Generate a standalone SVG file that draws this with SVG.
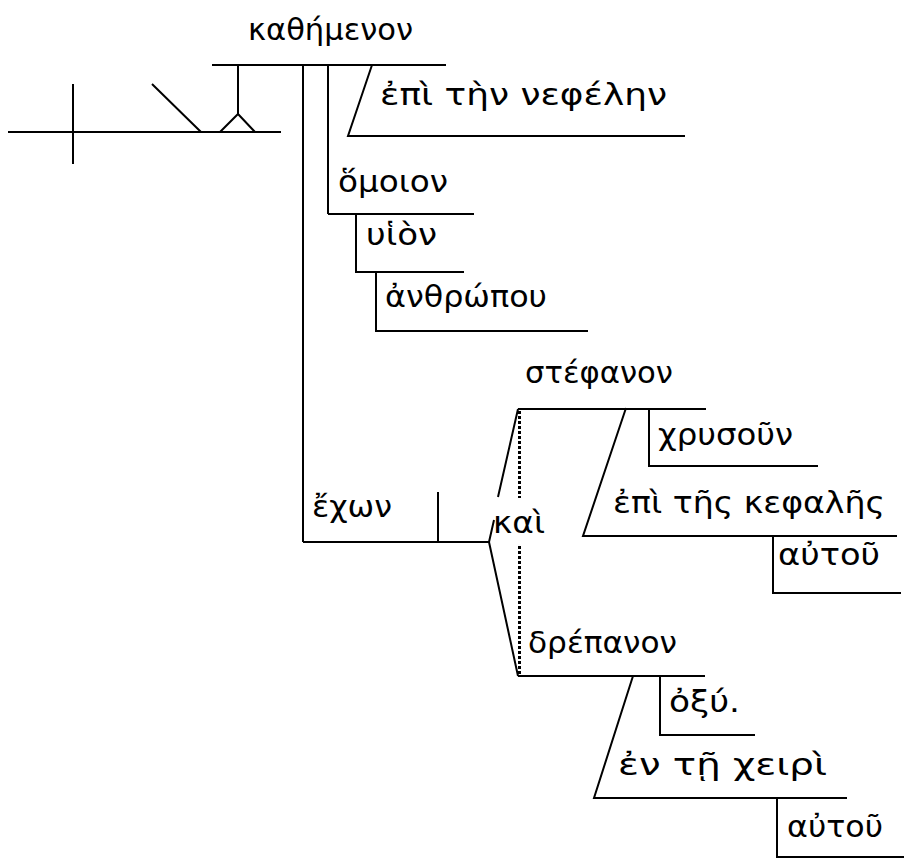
<svg xmlns="http://www.w3.org/2000/svg" width="910" height="867" viewBox="0 0 910 867">
<style>
.l{stroke:#000;stroke-width:2;fill:none}
.d{stroke:#000;stroke-width:3;fill:none;stroke-dasharray:3,2}
text{font-family:"DejaVu Sans","Noto Sans",sans-serif;font-size:30px;fill:#000}
</style>
<rect width="910" height="867" fill="#fff"/>
<g id="connectors">
<path class="l" d="M8,132H281M73,84V164M152,84L201,132M220,132L238,114L255,132M238,114V65"/>
<path class="l" d="M212,65H446M303,65V542M328,65V214M372,65L348,136H685"/>
<path class="l" d="M328,214H474M356,214V272H464M376,272V331H588"/>
<path class="l" d="M303,542H489M438,492V542M489,542L494,520M498,497L518,409M489,542L518,676"/>
<path class="d" d="M519.5,411V498M519.5,546V674"/>
<path class="l" d="M518,409H706M649,408V466H818M626,408L583,536H897M773,536V593H901"/>
<path class="l" d="M518,676H705M660,676V735H755M633,676L594,798H847M777,798V857H904"/>
</g>
<g id="n1"><text x="248" y="40" textLength="165" lengthAdjust="spacingAndGlyphs">καθήμενον</text></g>
<g id="n2"><text x="380" y="105" textLength="287" lengthAdjust="spacingAndGlyphs">ἐπὶ τὴν νεφέλην</text></g>
<g id="n3"><text x="338" y="192" textLength="110" lengthAdjust="spacingAndGlyphs">ὅμοιον</text></g>
<g id="n4"><text x="366" y="245" textLength="71" lengthAdjust="spacingAndGlyphs">υἱὸν</text></g>
<g id="n5"><text x="385" y="307" textLength="162" lengthAdjust="spacingAndGlyphs">ἀνθρώπου</text></g>
<g id="n6"><text x="312" y="517" textLength="80" lengthAdjust="spacingAndGlyphs">ἔχων</text></g>
<g id="n7"><text x="493" y="533" textLength="52" lengthAdjust="spacingAndGlyphs">καὶ</text></g>
<g id="n8"><text x="525" y="383" textLength="148" lengthAdjust="spacingAndGlyphs">στέφανον</text></g>
<g id="n9"><text x="658" y="445" textLength="135" lengthAdjust="spacingAndGlyphs">χρυσοῦν</text></g>
<g id="n10"><text x="613" y="513" textLength="272" lengthAdjust="spacingAndGlyphs">ἐπὶ τῆς κεφαλῆς</text></g>
<g id="n11"><text x="778" y="565" textLength="102" lengthAdjust="spacingAndGlyphs">αὐτοῦ</text></g>
<g id="n12"><text x="528" y="653" textLength="149" lengthAdjust="spacingAndGlyphs">δρέπανον</text></g>
<g id="n13"><text x="669" y="712" textLength="71" lengthAdjust="spacingAndGlyphs">ὀξύ.</text></g>
<g id="n14"><text x="618" y="775" textLength="209" lengthAdjust="spacingAndGlyphs">ἐν τῇ χειρὶ</text></g>
<g id="n15"><text x="787" y="837" textLength="96" lengthAdjust="spacingAndGlyphs">αὐτοῦ</text></g>
</svg>
